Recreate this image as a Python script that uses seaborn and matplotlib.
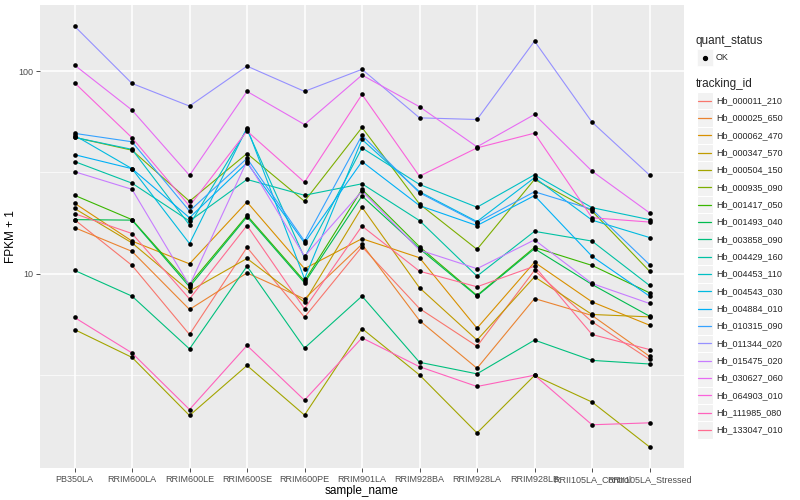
import matplotlib
matplotlib.use('Agg')
import matplotlib.pyplot as plt
from matplotlib.patches import Rectangle
from matplotlib.lines import Line2D
from matplotlib.ticker import NullFormatter
import pandas as pd
import seaborn as sns

samples = ['PB350LA', 'RRIM600LA', 'RRIM600LE', 'RRIM600SE', 'RRIM600PE',
           'RRIM901LA', 'RRIM928BA', 'RRIM928LA', 'RRIM928LB',
           'RRII105LA_Control', 'RRII105LA_Stressed']

tracking_ids = ['Hb_000011_210', 'Hb_000025_650', 'Hb_000062_470', 'Hb_000347_570',
                'Hb_000504_150', 'Hb_000935_090', 'Hb_001417_050', 'Hb_001493_040',
                'Hb_003858_090', 'Hb_004429_160', 'Hb_004453_110', 'Hb_004543_030',
                'Hb_004884_010', 'Hb_010315_090', 'Hb_011344_020', 'Hb_015475_020',
                'Hb_030627_060', 'Hb_064903_010', 'Hb_111985_080', 'Hb_133047_010']

# FPKM + 1 per sample
hb_000011_210 = [18.5, 11.0, 5.02, 13.5, 6.11, 13.6, 6.74, 4.39, 10.4, 5.80, 3.78]
hb_000025_650 = [16.9, 12.9, 6.67, 10.1, 7.52, 14.0, 5.88, 3.42, 7.55, 6.23, 3.92]
hb_000062_470 = [22.3, 14.5, 11.2, 22.6, 10.6, 14.9, 12.0, 5.39, 11.4, 7.27, 5.58]
hb_000347_570 = [21.0, 14.2, 8.21, 11.9, 7.25, 21.3, 8.53, 4.71, 9.66, 6.30, 6.13]
hb_000504_150 = [5.31, 3.87, 2.00, 3.53, 2.01, 5.37, 3.17, 1.64, 3.15, 2.33, 1.40]
hb_000935_090 = [47.1, 40.7, 22.8, 39.2, 22.8, 52.7, 22.1, 13.2, 29.2, 20.4, 10.3]
hb_001417_050 = [24.4, 18.5, 8.86, 19.4, 9.20, 26.1, 13.6, 7.82, 13.5, 11.0, 8.06]
hb_001493_040 = [18.5, 18.4, 8.63, 19.1, 9.03, 24.2, 13.3, 7.76, 13.3, 8.86, 6.18]
hb_003858_090 = [10.4, 7.76, 4.26, 10.9, 4.30, 7.76, 3.66, 3.21, 4.71, 3.74, 3.59]
hb_004429_160 = [35.8, 28.0, 18.2, 29.2, 24.4, 27.8, 18.3, 9.74, 16.2, 14.5, 8.76]
hb_004453_110 = [47.1, 41.1, 17.4, 51.6, 12.0, 41.8, 27.6, 21.3, 30.8, 21.2, 18.5]
hb_004543_030 = [48.2, 33.0, 14.1, 52.5, 9.45, 46.0, 25.4, 18.1, 29.8, 18.4, 15.1]
hb_004884_010 = [38.7, 33.0, 18.9, 35.3, 14.2, 35.8, 21.7, 17.3, 24.3, 12.2, 7.76]
hb_010315_090 = [49.3, 44.8, 20.4, 37.1, 14.5, 48.2, 25.1, 17.9, 25.4, 20.8, 11.1]
hb_011344_020 = [166.7, 86.9, 67.2, 105.8, 79.4, 102.0, 58.8, 57.7, 140.6, 56.0, 30.7]
hb_015475_020 = [31.9, 26.1, 8.76, 36.0, 12.2, 25.6, 13.1, 10.6, 14.7, 8.96, 7.14]
hb_030627_060 = [107.1, 64.2, 30.6, 79.4, 54.5, 95.6, 66.7, 42.3, 61.1, 32.1, 20.0]
hb_064903_010 = [87.6, 46.9, 21.6, 50.6, 28.3, 76.7, 30.3, 41.8, 49.4, 18.9, 18.0]
hb_111985_080 = [6.09, 4.07, 2.14, 4.43, 2.38, 4.83, 3.48, 2.78, 3.16, 1.80, 1.84]
hb_133047_010 = [19.8, 15.8, 7.52, 17.3, 6.72, 17.2, 10.3, 8.63, 10.9, 5.02, 4.23]

series = [hb_000011_210, hb_000025_650, hb_000062_470, hb_000347_570, hb_000504_150,
          hb_000935_090, hb_001417_050, hb_001493_040, hb_003858_090, hb_004429_160,
          hb_004453_110, hb_004543_030, hb_004884_010, hb_010315_090, hb_011344_020,
          hb_015475_020, hb_030627_060, hb_064903_010, hb_111985_080, hb_133047_010]

# ggplot2 default hue palette for 20 levels
colors = ['#F8766D', '#EA8331', '#D89000', '#C09B00', '#A3A500', '#7CAE00', '#39B600',
          '#00BB4E', '#00BF7D', '#00C1A3', '#00BFC4', '#00BAE0', '#00B0F6', '#35A2FF',
          '#9590FF', '#C77CFF', '#E76BF3', '#FA62DB', '#FF62BC', '#FF6C91']

rows = []
for tid, vals in zip(tracking_ids, series):
    for s, v in zip(samples, vals):
        rows.append({'sample_name': s, 'tracking_id': tid, 'fpkm': v})
df = pd.DataFrame(rows)

sns.set_theme(style='darkgrid', rc={'axes.facecolor': '#EBEBEB'})
plt.rcParams['font.family'] = ['Liberation Sans', 'DejaVu Sans']

W, H = 800, 500
fig = plt.figure(figsize=(8, 5), dpi=100)
fig.patch.set_facecolor('white')
ax = fig.add_axes([40 / W, 1 - 468 / H, (684 - 40) / W, (468 - 5) / H])

sns.lineplot(data=df, x='sample_name', y='fpkm', hue='tracking_id',
             hue_order=tracking_ids, palette=colors, sort=False, estimator=None,
             linewidth=0.8, legend=False, ax=ax)
sns.scatterplot(data=df, x='sample_name', y='fpkm', color='black', s=11,
                linewidth=0, legend=False, ax=ax, zorder=5)

ax.set_yscale('log')
ax.set_ylim(10 ** 0.042, 10 ** 2.326)
ax.set_xlim(-0.6, len(samples) - 0.4)
ax.set_yticks([10, 100])
ax.set_yticklabels(['10', '100'])
ax.set_yticks([10 ** 0.5, 10 ** 1.5], minor=True)
ax.yaxis.set_minor_formatter(NullFormatter())
ax.grid(which='major', color='white', linewidth=1.1)
ax.grid(which='minor', axis='y', color='white', linewidth=0.5)
ax.set_axisbelow(True)
for sp in ax.spines.values():
    sp.set_visible(False)
ax.tick_params(which='major', length=3, width=0.6, color='#333333',
               labelsize=6.5, labelcolor='#4D4D4D', pad=2, bottom=True, left=True)
ax.tick_params(which='minor', length=0, left=False)
ax.set_xlabel('sample_name', fontsize=8.5, color='black', labelpad=1)
ax.set_ylabel('FPKM + 1', fontsize=8.5, color='black', labelpad=1)

# legend drawn in figure pixel coordinates
def fx(x):
    return x / W

def fy(y):
    return 1 - y / H

fig.text(fx(696), fy(41), 'quant_status', fontsize=8.5, va='center', ha='left')
fig.add_artist(Rectangle((fx(696.5), fy(66)), 16 / W, 16.5 / H,
                         facecolor='#F2F2F2', edgecolor='white', lw=0.5))
fig.add_artist(Line2D([fx(704.5)], [fy(57.5)], marker='o', color='black',
                      markersize=2.8, linestyle='none'))
fig.text(fx(716), fy(57.5), 'OK', fontsize=6.5, va='center', ha='left')

fig.text(fx(696), fy(84), 'tracking_id', fontsize=8.5, va='center', ha='left')
step = 17.33
for i, (tid, col) in enumerate(zip(tracking_ids, colors)):
    yc = 100.7 + i * step
    fig.add_artist(Rectangle((fx(696.5), fy(yc + step / 2)), 16 / W, step / H,
                             facecolor='#F2F2F2', edgecolor='white', lw=0.8))
    fig.add_artist(Line2D([fx(698), fx(711)], [fy(yc), fy(yc)], color=col, lw=0.9))
    fig.text(fx(716), fy(yc), tid, fontsize=6.5, va='center', ha='left')

fig.savefig('out.png', dpi=100)
